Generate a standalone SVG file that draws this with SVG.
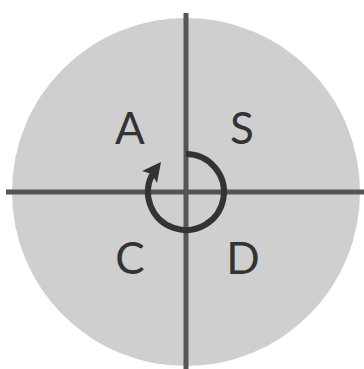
<svg xmlns="http://www.w3.org/2000/svg" width="364" height="369" viewBox="0 0 364 369">
<style>
.axis{stroke:#555;stroke-width:5;fill:none}
.loop{stroke:#333;stroke-width:6;fill:none}
.lbl{font-family:Lato,"Open Sans",sans-serif;font-size:44px;fill:#333;text-anchor:middle}
</style>
<g id="disc"><circle cx="186" cy="192" r="174" fill="#cfcfcf"/></g>
<g id="connectors">
<line class="axis" x1="186" y1="13" x2="186" y2="369"/>
<line class="axis" x1="6" y1="192" x2="364" y2="192"/>
<path class="loop" d="M186,154 A38,38 0 1 1 152.5,174"/>
<polygon fill="#333" points="161,162 142,171 152,174 157,183"/>
</g>
<g id="A"><text class="lbl" x="130" y="144">A</text></g>
<g id="S"><text class="lbl" x="242" y="144">S</text></g>
<g id="C"><text class="lbl" x="130" y="274">C</text></g>
<g id="D"><text class="lbl" x="243" y="274">D</text></g>
</svg>
